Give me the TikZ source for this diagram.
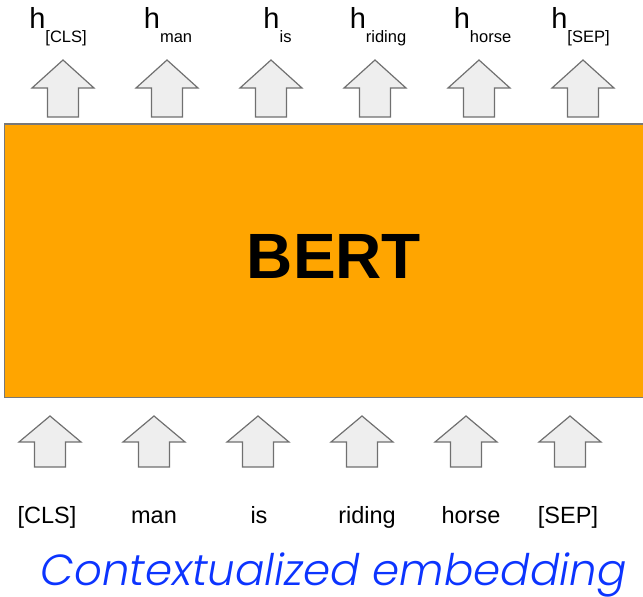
\documentclass[tikz,border=0pt]{standalone}
\usepackage{fontspec}
\setmainfont{Liberation Sans}
\newfontfamily\captionfont{Poppins}[UprightFont=* Light, ItalicFont=* Light Italic]
\definecolor{bertorange}{RGB}{255,165,0}
\definecolor{boxedge}{RGB}{120,120,120}
\definecolor{arrowfill}{RGB}{238,238,238}
\definecolor{arrowedge}{RGB}{112,112,112}
\definecolor{captionblue}{RGB}{12,52,255}

% block arrow pointing up: #1 centre x, #2 apex y, #3 head height, #4 stem height
\newcommand\blockuparrow[4]{%
  \draw[arrowbox] (#1,#2) -- ++(31,#3) -- ++(-15.5,0) -- ++(0,#4)
    -- ++(-31,0) -- ++(0,-#4) -- ++(-15.5,0) -- cycle;}
% hidden-state label with a lowered small subscript
\newcommand\hsub[1]{h\raisebox{-14pt}{\fontsize{16.5}{18}\selectfont #1}}

\tikzset{
  arrowbox/.style={draw=arrowedge, fill=arrowfill, line width=1.2pt, line join=miter},
  bertbox/.style={draw=boxedge, fill=bertorange, line width=1.5pt},
  toplbl/.style={anchor=base, inner sep=0pt, font=\fontsize{29}{32}\selectfont},
  tokenlbl/.style={anchor=base, inner sep=0pt, font=\fontsize{23.5}{26}\selectfont},
}

\begin{document}
\begin{tikzpicture}[x=1pt,y=-1pt]
\useasboundingbox (0,0) rectangle (643,597);

% output states
\node[toplbl] (hcls)   at (58,28)    {\hsub{[CLS]}};
\node[toplbl] (hman)   at (168,28)   {\hsub{man}};
\node[toplbl] (his)    at (277.5,28) {\hsub{is}};
\node[toplbl] (hride)  at (378,28)   {\hsub{riding}};
\node[toplbl] (hhorse) at (482.5,28) {\hsub{horse}};
\node[toplbl] (hsep)   at (580.5,28) {\hsub{[SEP]}};

\foreach \x in {63,167,271,375,479,583} {\blockuparrow{\x}{60}{28}{29}}

% encoder block
\path[bertbox] (4.5,124) rectangle (660,397.5);
\node[anchor=base, inner sep=0pt, font=\bfseries\fontsize{64}{70}\selectfont] (bert) at (334,278) {BERT};

\foreach \x in {50,154,258,362,466,570} {\blockuparrow{\x}{416}{26}{25}}

% input tokens
\node[tokenlbl] (tcls)   at (47,523)  {[CLS]};
\node[tokenlbl] (tman)   at (154,523) {man};
\node[tokenlbl] (tis)    at (259,523) {is};
\node[tokenlbl] (tride)  at (367,523) {riding};
\node[tokenlbl] (thorse) at (471,523) {horse};
\node[tokenlbl] (tsep)   at (568,523) {[SEP]};

\node[anchor=base, inner sep=0pt, text=captionblue,
      font=\captionfont\itshape\fontsize{43.5}{48}\selectfont] (caption) at (333.5,585)
  {Contextualized embedding};
\end{tikzpicture}
\end{document}
